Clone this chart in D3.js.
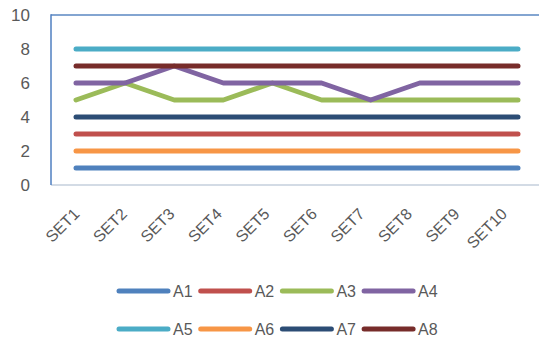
<!DOCTYPE html>
<html><head><meta charset="utf-8">
<script src="https://cdn.jsdelivr.net/npm/d3@7"></script>
<style>body{margin:0;background:#fff}svg{display:block}</style>
</head><body>
<svg id="c" width="539" height="338"></svg>
<script>
const categories = ["SET1","SET2","SET3","SET4","SET5","SET6","SET7","SET8","SET9","SET10"];
const seriesNames = ["A1","A2","A3","A4","A5","A6","A7","A8"];
const A1 = [1,1,1,1,1,1,1,1,1,1];
const A2 = [3,3,3,3,3,3,3,3,3,3];
const A3 = [5,6,5,5,6,5,5,5,5,5];
const A4 = [6,6,7,6,6,6,5,6,6,6];
const A5 = [8,8,8,8,8,8,8,8,8,8];
const A6 = [2,2,2,2,2,2,2,2,2,2];
const A7 = [4,4,4,4,4,4,4,4,4,4];
const A8 = [7,7,7,7,7,7,7,7,7,7];
const yTicks = [0,2,4,6,8,10];
const colors = ["#4f81bd","#c0504d","#9bbb59","#8064a2","#4bacc6","#f79646","#2c4d75","#772c2a"];
const seriesValues = [A1,A2,A3,A4,A5,A6,A7,A8];

const svg = d3.select("#c");
const pLeft = 51, pTop = 15, pBottom = 185;
const x = d3.scalePoint().domain(categories).range([76, 518]);
const y = d3.scaleLinear().domain([0,10]).range([pBottom, pTop]);
const font = "'Liberation Sans', Arial, sans-serif";

// plot frame
svg.append("line").attr("x1",pLeft).attr("x2",539).attr("y1",pBottom).attr("y2",pBottom)
  .attr("stroke","#c5cfdc").attr("stroke-width",1.5);
svg.append("line").attr("x1",pLeft).attr("x2",539).attr("y1",pTop).attr("y2",pTop)
  .attr("stroke","#5a87c2").attr("stroke-width",1.5);
svg.append("line").attr("x1",pLeft).attr("x2",pLeft).attr("y1",pTop-0.75).attr("y2",pBottom)
  .attr("stroke","#4f7fc0").attr("stroke-width",1.5);

// y axis labels
const yAxis = d3.axisLeft(y).tickValues(yTicks).tickSize(0).tickPadding(0);
const ya = svg.append("g").attr("transform",`translate(30,0)`).call(yAxis);
ya.select(".domain").remove();
ya.selectAll("text").attr("font-family",font).attr("font-size",17).attr("fill","#595959").attr("dy","0.35em");

// x axis labels
const xAxis = d3.axisBottom(x).tickSize(0).tickPadding(0);
const xa = svg.append("g").attr("transform",`translate(0,${pBottom})`).call(xAxis);
xa.select(".domain").remove();
xa.selectAll("text")
  .attr("font-family",font).attr("font-size",16).attr("fill","#595959")
  .attr("text-anchor","end").attr("dy",null).attr("y",0)
  .attr("transform", (d,i) => `translate(${4 - i*1.6},30) rotate(-45)`);

// lines
const line = d3.line().x((d,i)=>x(categories[i])).y(d=>y(d));
seriesValues.forEach((vals,k)=>{
  svg.append("path").datum(vals).attr("d",line)
    .attr("fill","none").attr("stroke",colors[k]).attr("stroke-width",5)
    .attr("stroke-linecap","round").attr("stroke-linejoin","round");
});

// legend
const lg = svg.append("g");
seriesNames.forEach((n,k)=>{
  const row = Math.floor(k/4), col = k%4;
  const lx = 119 + col*81.7, ly = row===0 ? 291 : 329;
  lg.append("line").attr("x1",lx).attr("x2",lx+49).attr("y1",ly).attr("y2",ly)
    .attr("stroke",colors[k]).attr("stroke-width",5).attr("stroke-linecap","round");
  lg.append("text").attr("x",lx+54).attr("y",ly).attr("dy","0.35em")
    .attr("font-family",font).attr("font-size",16).attr("fill","#595959").text(n);
});
</script>
</body></html>
